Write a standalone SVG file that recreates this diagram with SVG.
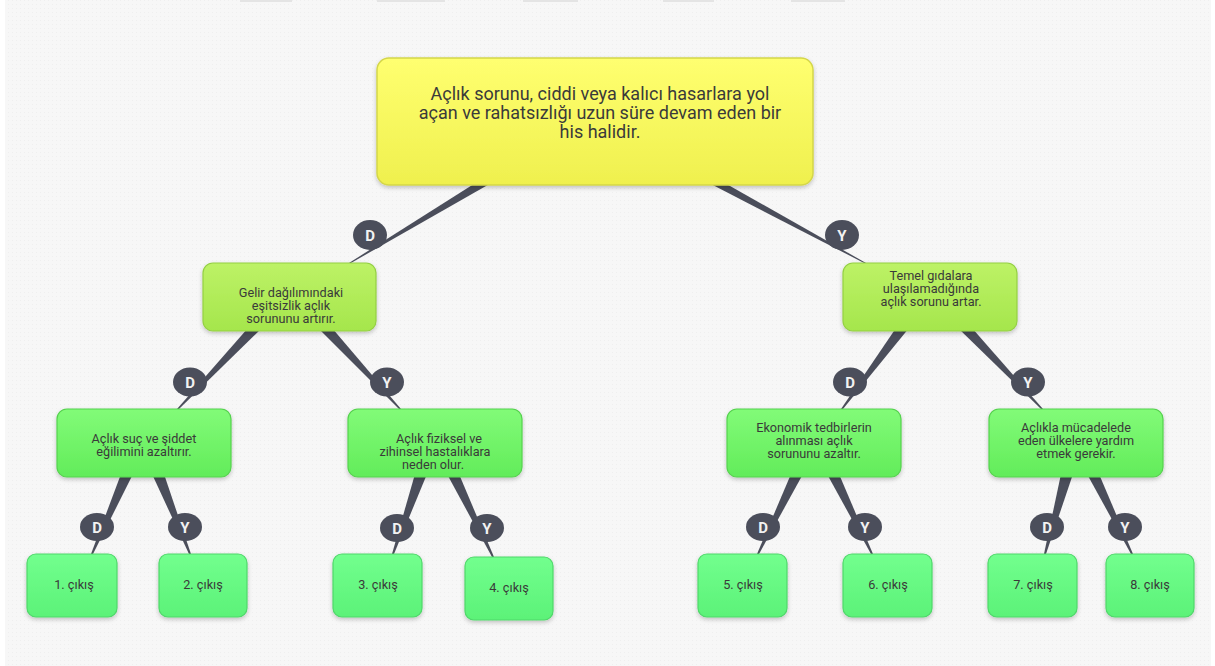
<svg xmlns="http://www.w3.org/2000/svg" width="1215" height="666" viewBox="0 0 1215 666">
  <defs>
    <linearGradient id="gYellow" x1="0" y1="0" x2="0" y2="1">
      <stop offset="0" stop-color="#ffff70"/>
      <stop offset="1" stop-color="#eff04e"/>
    </linearGradient>
    <linearGradient id="gLime" x1="0" y1="0" x2="0" y2="1">
      <stop offset="0" stop-color="#bdf266"/>
      <stop offset="1" stop-color="#a5e64c"/>
    </linearGradient>
    <linearGradient id="gGreen" x1="0" y1="0" x2="0" y2="1">
      <stop offset="0" stop-color="#82fb78"/>
      <stop offset="1" stop-color="#62ec5a"/>
    </linearGradient>
    <linearGradient id="gLeaf" x1="0" y1="0" x2="0" y2="1">
      <stop offset="0" stop-color="#72ff8e"/>
      <stop offset="1" stop-color="#5cf278"/>
    </linearGradient>
    <filter id="shadow" x="-10%" y="-10%" width="120%" height="130%">
      <feDropShadow dx="0" dy="2" stdDeviation="2" flood-color="#000" flood-opacity="0.22"/>
    </filter>
    <pattern id="dots" width="4" height="4" patternUnits="userSpaceOnUse">
      <rect width="4" height="4" fill="#f7f7f7"/>
      <rect x="0" y="0" width="1" height="1" fill="#efefef"/>
    </pattern>
  </defs>
  <style>
    .root { fill: url(#gYellow); stroke: #d4d64a; stroke-width: 1.5; filter: url(#shadow); }
    .l2 { fill: url(#gLime); stroke: #94d043; stroke-width: 1.2; filter: url(#shadow); }
    .l3 { fill: url(#gGreen); stroke: #55d24e; stroke-width: 1.2; filter: url(#shadow); }
    .leaf { fill: url(#gLeaf); stroke: #4fd86a; stroke-width: 1.2; filter: url(#shadow); }
    .t { font-family: Roboto, "Liberation Sans", sans-serif; fill: #3a3a3a; text-anchor: middle; }
    .t17 { font-size: 18px; }
    .t11 { font-size: 12.7px; }
    .wedge { fill: #4b4e5b; }
    .badge { fill: #4b4e5b; }
    .bt { font-family: Roboto, "Liberation Sans", sans-serif; font-size: 15px; font-weight: bold; fill: #f2f2f2; text-anchor: middle; }
  </style>

  <!-- canvas -->
  <rect width="1215" height="666" fill="#ffffff"/>
  <rect x="5" y="0" width="1206" height="666" fill="url(#dots)"/>
  <g fill="#e4e4e4">
    <rect x="240" y="0" width="52" height="2"/>
    <rect x="377" y="0" width="68" height="2"/>
    <rect x="523" y="0" width="55" height="2"/>
    <rect x="663" y="0" width="51" height="2"/>
    <rect x="791" y="0" width="54" height="2"/>
  </g>

  <!-- connectors: tapered stems with answer badges -->
  <g id="connectors">
    <!-- root -> left -->
    <polygon class="wedge" points="477,182 493,182 351,263 349,263"/>
    <!-- root -> right -->
    <polygon class="wedge" points="707,182 723,182 866,263 864,263"/>
    <!-- left L2 -->
    <polygon class="wedge" points="248,328 262,328 179,409 177,409"/>
    <polygon class="wedge" points="318,328 332,328 401,409 399,409"/>
    <!-- right L2 -->
    <polygon class="wedge" points="896,328 909,328 843,409 841,409"/>
    <polygon class="wedge" points="958,328 972,328 1043,409 1041,409"/>
    <!-- level 3 -> leaves -->
    <polygon class="wedge" points="121,474 133,474 93,554 91,554"/>
    <polygon class="wedge" points="152,474 164,474 191,554 189,554"/>
    <polygon class="wedge" points="415,474 427,474 394,554 392,554"/>
    <polygon class="wedge" points="447,474 459,474 494,557 492,557"/>
    <polygon class="wedge" points="791,474 803,474 759,554 757,554"/>
    <polygon class="wedge" points="827,474 839,474 873,554 871,554"/>
    <polygon class="wedge" points="1061,474 1073,474 1046,554 1044,554"/>
    <polygon class="wedge" points="1087,474 1099,474 1133,554 1131,554"/>

    <g id="badges">
      <ellipse class="badge" cx="370" cy="235" rx="17" ry="15"/>
      <text class="bt" x="370" y="241" font-size="16">D</text>
      <ellipse class="badge" cx="842" cy="235" rx="17" ry="15"/>
      <text class="bt" x="842" y="241" font-size="16">Y</text>

      <ellipse class="badge" cx="190" cy="382" rx="17" ry="14.5"/>
      <text class="bt" x="190" y="388">D</text>
      <ellipse class="badge" cx="387" cy="382" rx="17" ry="14.5"/>
      <text class="bt" x="387" y="388">Y</text>
      <ellipse class="badge" cx="850" cy="382" rx="17" ry="14.5"/>
      <text class="bt" x="850" y="388">D</text>
      <ellipse class="badge" cx="1028" cy="382" rx="17" ry="14.5"/>
      <text class="bt" x="1028" y="388">Y</text>

      <ellipse class="badge" cx="97" cy="527" rx="17" ry="14"/>
      <text class="bt" x="97" y="533">D</text>
      <ellipse class="badge" cx="185" cy="527" rx="17" ry="14"/>
      <text class="bt" x="185" y="533">Y</text>
      <ellipse class="badge" cx="397" cy="528" rx="17" ry="14"/>
      <text class="bt" x="397" y="534">D</text>
      <ellipse class="badge" cx="487" cy="528" rx="17" ry="14"/>
      <text class="bt" x="487" y="534">Y</text>
      <ellipse class="badge" cx="763" cy="527" rx="17" ry="14"/>
      <text class="bt" x="763" y="533">D</text>
      <ellipse class="badge" cx="865" cy="527" rx="17" ry="14"/>
      <text class="bt" x="865" y="533">Y</text>
      <ellipse class="badge" cx="1047" cy="527" rx="17" ry="14"/>
      <text class="bt" x="1047" y="533">D</text>
      <ellipse class="badge" cx="1125" cy="527" rx="17" ry="14"/>
      <text class="bt" x="1125" y="533">Y</text>
    </g>
  </g>

  <!-- root statement -->
  <g id="root">
    <rect class="root" x="377" y="58" width="436" height="127" rx="12"/>
    <text class="t t17" x="600" y="100">Açlık sorunu, ciddi veya kalıcı hasarlara yol</text>
    <text class="t t17" x="600" y="119">açan ve rahatsızlığı uzun süre devam eden bir</text>
    <text class="t t17" x="600" y="138">his halidir.</text>
  </g>

  <!-- second level -->
  <g id="node-gelir">
    <rect class="l2" x="203" y="263" width="173" height="68" rx="10"/>
    <text class="t t11" x="291" y="297">Gelir dağılımındaki</text>
    <text class="t t11" x="291" y="310">eşitsizlik açlık</text>
    <text class="t t11" x="291" y="323">sorununu artırır.</text>
  </g>
  <g id="node-temel">
    <rect class="l2" x="843" y="263" width="174" height="68" rx="10"/>
    <text class="t t11" x="931" y="280">Temel gıdalara</text>
    <text class="t t11" x="931" y="293">ulaşılamadığında</text>
    <text class="t t11" x="931" y="306">açlık sorunu artar.</text>
  </g>

  <!-- third level -->
  <g id="node-suc">
    <rect class="l3" x="57" y="409" width="174" height="68" rx="10"/>
    <text class="t t11" x="144" y="443">Açlık suç ve şiddet</text>
    <text class="t t11" x="144" y="456">eğilimini azaltırır.</text>
  </g>
  <g id="node-hastalik">
    <rect class="l3" x="348" y="409" width="174" height="68" rx="10"/>
    <text class="t t11" x="439" y="443">Açlık fiziksel ve</text>
    <text class="t t11" x="435" y="456">zihinsel hastalıklara</text>
    <text class="t t11" x="433" y="469">neden olur.</text>
  </g>
  <g id="node-ekonomik">
    <rect class="l3" x="727" y="409" width="174" height="68" rx="10"/>
    <text class="t t11" x="814" y="432">Ekonomik tedbirlerin</text>
    <text class="t t11" x="814" y="445">alınması açlık</text>
    <text class="t t11" x="814" y="458">sorununu azaltır.</text>
  </g>
  <g id="node-yardim">
    <rect class="l3" x="989" y="409" width="174" height="68" rx="10"/>
    <text class="t t11" x="1076" y="432">Açlıkla mücadelede</text>
    <text class="t t11" x="1076" y="445">eden ülkelere yardım</text>
    <text class="t t11" x="1076" y="458">etmek gerekir.</text>
  </g>

  <!-- outcomes -->
  <g id="out-1">
    <rect class="leaf" x="27" y="554" width="90" height="63" rx="9"/>
    <text class="t t11" x="74" y="589">1. çıkış</text>
  </g>
  <g id="out-2">
    <rect class="leaf" x="159" y="554" width="88" height="63" rx="9"/>
    <text class="t t11" x="203" y="589">2. çıkış</text>
  </g>
  <g id="out-3">
    <rect class="leaf" x="333" y="554" width="89" height="63" rx="9"/>
    <text class="t t11" x="378" y="589">3. çıkış</text>
  </g>
  <g id="out-4">
    <rect class="leaf" x="465" y="557" width="88" height="63" rx="9"/>
    <text class="t t11" x="509" y="592">4. çıkış</text>
  </g>
  <g id="out-5">
    <rect class="leaf" x="698" y="554" width="89" height="63" rx="9"/>
    <text class="t t11" x="743" y="589">5. çıkış</text>
  </g>
  <g id="out-6">
    <rect class="leaf" x="843" y="554" width="89" height="63" rx="9"/>
    <text class="t t11" x="888" y="589">6. çıkış</text>
  </g>
  <g id="out-7">
    <rect class="leaf" x="988" y="554" width="89" height="63" rx="9"/>
    <text class="t t11" x="1033" y="589">7. çıkış</text>
  </g>
  <g id="out-8">
    <rect class="leaf" x="1106" y="554" width="88" height="63" rx="9"/>
    <text class="t t11" x="1150" y="589">8. çıkış</text>
  </g>
</svg>
